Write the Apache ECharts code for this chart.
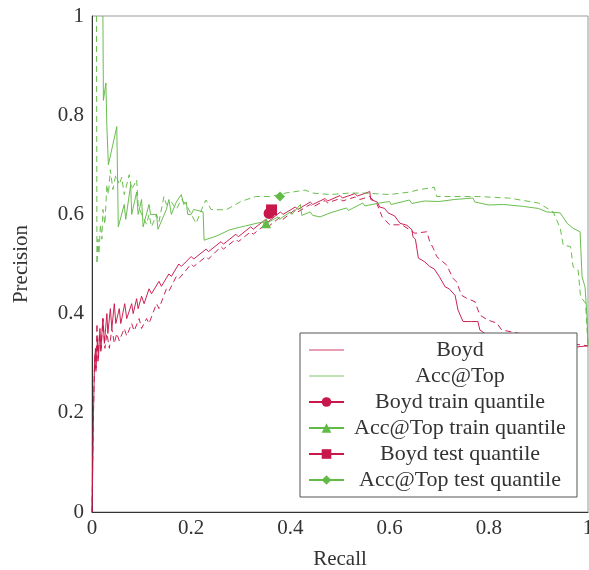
<!DOCTYPE html>
<html><head><meta charset="utf-8">
<script src="https://cdn.jsdelivr.net/npm/echarts@6/dist/echarts.min.js"></script>
<style>html,body{margin:0;padding:0;background:#fff}#c{width:589px;height:570px}</style>
</head><body><div id="c"></div>
<script>
const xTicks = [0, 0.2, 0.4, 0.6, 0.8, 1];
const yTicks = [0, 0.2, 0.4, 0.6, 0.8, 1];
const legendNames = ['Boyd', 'Acc@Top', 'Boyd train quantile', 'Acc@Top train quantile', 'Boyd test quantile', 'Acc@Top test quantile'];

const boydTrain = [[0,0],[0.002,0.12],[0.003,0.2],[0.004,0.25],[0.005,0.3],[0.007,0.33],[0.008,0.29],[0.011,0.35],[0.013,0.31],[0.016,0.37],[0.018,0.33],[0.022,0.39],[0.025,0.34],[0.03,0.4],[0.032,0.36],[0.037,0.41],[0.04,0.37],[0.045,0.42],[0.048,0.38],[0.055,0.41],[0.058,0.38],[0.066,0.42],[0.07,0.39],[0.08,0.42],[0.083,0.4],[0.09,0.43],[0.093,0.41],[0.1,0.435],[0.105,0.42],[0.115,0.45],[0.12,0.44],[0.135,0.465],[0.14,0.455],[0.155,0.48],[0.16,0.475],[0.175,0.5],[0.18,0.495],[0.2,0.515],[0.205,0.51],[0.23,0.53],[0.235,0.525],[0.26,0.545],[0.265,0.54],[0.29,0.56],[0.295,0.555],[0.32,0.575],[0.325,0.57],[0.35,0.59],[0.355,0.585],[0.38,0.605],[0.385,0.6],[0.41,0.615],[0.415,0.61],[0.44,0.625],[0.445,0.62],[0.47,0.632],[0.475,0.627],[0.5,0.638],[0.505,0.633],[0.53,0.642],[0.535,0.637],[0.56,0.646],[0.562,0.63],[0.575,0.625],[0.58,0.615],[0.59,0.612],[0.597,0.603],[0.61,0.597],[0.621,0.582],[0.635,0.578],[0.645,0.569],[0.647,0.555],[0.652,0.55],[0.658,0.512],[0.67,0.505],[0.681,0.495],[0.69,0.49],[0.7,0.475],[0.712,0.454],[0.72,0.45],[0.732,0.437],[0.738,0.407],[0.748,0.384],[0.765,0.384],[0.778,0.384],[0.782,0.367],[0.792,0.36],[0.8,0.355],[0.85,0.35],[0.9,0.345],[0.95,0.338],[0.97,0.332],[1.0,0.335]];

const boydTest = [[0,0],[0.002,0.15],[0.004,0.25],[0.006,0.32],[0.008,0.28],[0.01,0.38],[0.012,0.3],[0.015,0.36],[0.018,0.32],[0.022,0.39],[0.026,0.33],[0.03,0.36],[0.035,0.33],[0.04,0.37],[0.045,0.34],[0.05,0.36],[0.055,0.345],[0.065,0.37],[0.07,0.355],[0.08,0.38],[0.085,0.365],[0.095,0.39],[0.1,0.37],[0.11,0.39],[0.115,0.38],[0.13,0.42],[0.135,0.41],[0.15,0.45],[0.155,0.445],[0.17,0.475],[0.175,0.47],[0.2,0.5],[0.205,0.495],[0.23,0.515],[0.235,0.51],[0.26,0.535],[0.265,0.53],[0.29,0.55],[0.295,0.545],[0.32,0.565],[0.325,0.56],[0.35,0.58],[0.355,0.575],[0.38,0.595],[0.385,0.59],[0.41,0.61],[0.415,0.605],[0.44,0.62],[0.445,0.615],[0.47,0.628],[0.475,0.623],[0.5,0.632],[0.505,0.627],[0.53,0.635],[0.54,0.63],[0.56,0.636],[0.575,0.62],[0.585,0.595],[0.6,0.579],[0.625,0.579],[0.651,0.562],[0.675,0.565],[0.681,0.545],[0.688,0.532],[0.695,0.515],[0.715,0.498],[0.728,0.471],[0.735,0.464],[0.745,0.437],[0.755,0.431],[0.772,0.424],[0.782,0.397],[0.798,0.387],[0.816,0.381],[0.826,0.367],[0.857,0.361],[0.88,0.355],[0.92,0.348],[0.96,0.34],[1.0,0.335]];

const accTrain = [[0.022,1.0],[0.023,0.83],[0.028,0.865],[0.03,0.777],[0.033,0.7],[0.05,0.777],[0.053,0.575],[0.065,0.62],[0.068,0.59],[0.078,0.66],[0.08,0.6],[0.09,0.645],[0.093,0.6],[0.1,0.63],[0.103,0.575],[0.115,0.62],[0.118,0.6],[0.13,0.6],[0.133,0.57],[0.15,0.61],[0.155,0.63],[0.16,0.6],[0.17,0.625],[0.18,0.64],[0.185,0.62],[0.19,0.625],[0.193,0.6],[0.2,0.6],[0.205,0.61],[0.224,0.605],[0.226,0.548],[0.25,0.556],[0.253,0.552],[0.278,0.569],[0.281,0.565],[0.31,0.577],[0.313,0.573],[0.345,0.585],[0.348,0.58],[0.375,0.595],[0.378,0.59],[0.4,0.605],[0.403,0.6],[0.42,0.62],[0.423,0.598],[0.44,0.605],[0.445,0.598],[0.46,0.595],[0.48,0.603],[0.484,0.6],[0.513,0.613],[0.517,0.608],[0.546,0.623],[0.55,0.617],[0.58,0.623],[0.6,0.626],[0.603,0.62],[0.64,0.629],[0.645,0.622],[0.67,0.627],[0.7,0.626],[0.73,0.63],[0.768,0.633],[0.772,0.625],[0.8,0.619],[0.83,0.62],[0.87,0.616],[0.9,0.612],[0.917,0.605],[0.944,0.603],[0.958,0.582],[0.97,0.572],[0.984,0.565],[0.988,0.474],[0.994,0.454],[0.998,0.394],[1.0,0.335]];

const accTest = [[0.009,1.0],[0.01,0.5],[0.012,0.55],[0.014,0.52],[0.017,0.58],[0.02,0.55],[0.022,0.61],[0.026,0.58],[0.03,0.66],[0.033,0.64],[0.037,0.69],[0.042,0.65],[0.048,0.68],[0.055,0.66],[0.06,0.675],[0.065,0.64],[0.075,0.68],[0.08,0.65],[0.09,0.67],[0.093,0.62],[0.1,0.6],[0.11,0.58],[0.115,0.6],[0.12,0.575],[0.13,0.6],[0.135,0.585],[0.145,0.636],[0.15,0.62],[0.16,0.625],[0.17,0.61],[0.18,0.63],[0.19,0.62],[0.2,0.6],[0.21,0.582],[0.225,0.62],[0.23,0.629],[0.24,0.61],[0.27,0.609],[0.3,0.626],[0.33,0.636],[0.36,0.636],[0.39,0.643],[0.43,0.649],[0.445,0.643],[0.48,0.64],[0.52,0.643],[0.55,0.643],[0.6,0.64],[0.64,0.645],[0.66,0.65],[0.68,0.653],[0.69,0.655],[0.695,0.636],[0.73,0.636],[0.78,0.636],[0.84,0.633],[0.9,0.623],[0.93,0.605],[0.944,0.572],[0.95,0.538],[0.965,0.535],[0.97,0.494],[0.98,0.488],[0.985,0.434],[0.995,0.421],[1.0,0.335]];

const boydTrainQuantile = [[0.357, 0.602]];
const accTrainQuantile = [[0.351, 0.582]];
const boydTestQuantile = [[0.362, 0.609]];
const accTestQuantile = [[0.379, 0.636]];

const RED = '#c8174b';
const GREEN = '#62bb46';
const FONT = 'Liberation Serif';

const chart = echarts.init(document.getElementById('c'));
function curve(name, data, color, dashed) {
  return {
    name, type: 'line', data, symbol: 'none', showSymbol: false, silent: true,
    lineStyle: { color, width: 1, type: dashed ? [6, 4] : 'solid', opacity: 0.95 },
    itemStyle: { color }, animation: false, z: 2
  };
}
function marker(name, data, color, symbol, size) {
  return {
    name, type: 'line', data, symbol, symbolSize: size, showSymbol: true,
    lineStyle: { color, width: 1.2 }, itemStyle: { color, opacity: 1 },
    animation: false, z: 5
  };
}
const hiddenSym = { color: 'rgba(0,0,0,0)', borderWidth: 0, opacity: 0 };
chart.setOption({
  animation: false,
  textStyle: { fontFamily: FONT },
  grid: { left: 92, right: 1, top: 16, bottom: 58, show: true, borderColor: '#999', borderWidth: 1,
    containLabel: false, outerBoundsMode: 'none' },
  xAxis: {
    type: 'value', min: 0, max: 1, interval: 0.2,
    name: 'Recall', nameLocation: 'middle', nameGap: 37,
    nameTextStyle: { fontFamily: FONT, fontSize: 21, color: '#333' },
    axisLine: { show: true, lineStyle: { color: '#333', width: 1 } },
    axisTick: { show: false }, splitLine: { show: false },
    axisLabel: { fontFamily: FONT, fontSize: 21, color: '#333', margin: 6,
      formatter: v => { const t = xTicks.find(k => Math.abs(k - v) < 1e-9); return t === undefined ? '' : String(t); } }
  },
  yAxis: {
    type: 'value', min: 0, max: 1, interval: 0.2,
    name: 'Precision', nameLocation: 'middle', nameGap: 60, nameRotate: 90,
    nameTextStyle: { fontFamily: FONT, fontSize: 21, color: '#333' },
    axisLine: { show: true, lineStyle: { color: '#333', width: 1 } },
    axisTick: { show: false }, splitLine: { show: false },
    axisLabel: { fontFamily: FONT, fontSize: 21, color: '#333', margin: 8,
      formatter: v => { const t = yTicks.find(k => Math.abs(k - v) < 1e-9); return t === undefined ? '' : String(t); } }
  },
  legend: {
    data: [
      { name: 'Boyd', itemStyle: hiddenSym, lineStyle: { color: RED, opacity: 0.55, width: 1.5 } },
      { name: 'Acc@Top', itemStyle: hiddenSym, lineStyle: { color: GREEN, opacity: 0.55, width: 1.5 } },
      legendNames[2], legendNames[3], legendNames[4], legendNames[5]
    ],
    orient: 'vertical', left: 300, top: 333,
    padding: [6, 6, 6, 8], itemGap: 4, itemWidth: 35, itemHeight: 12,
    backgroundColor: '#fff', borderColor: '#555', borderWidth: 1, borderRadius: 0,
    selectedMode: false,
    formatter: n => '{a|' + n + '}',
    textStyle: { fontFamily: FONT, fontSize: 22, color: '#333',
      rich: { a: { width: 222, align: 'center', fontFamily: FONT, fontSize: 22, lineHeight: 22, color: '#333' } } }
  },
  series: [
    curve('Boyd', boydTrain, RED, false),
    curve('Boyd test', boydTest, RED, true),
    curve('Acc@Top', accTrain, GREEN, false),
    curve('Acc@Top test', accTest, GREEN, true),
    marker('Boyd train quantile', boydTrainQuantile, RED, 'circle', 11),
    marker('Acc@Top train quantile', accTrainQuantile, GREEN, 'triangle', 10),
    marker('Boyd test quantile', boydTestQuantile, RED, 'rect', 11),
    marker('Acc@Top test quantile', accTestQuantile, GREEN, 'diamond', 10)
  ]
});
</script></body></html>
